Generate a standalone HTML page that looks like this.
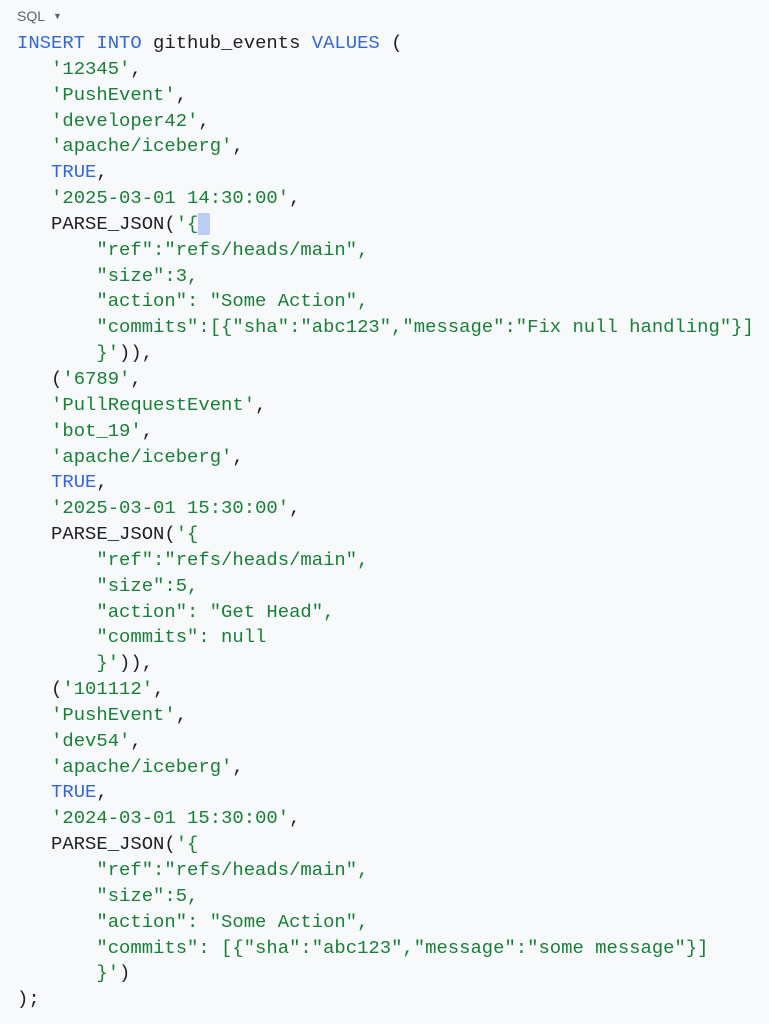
<!DOCTYPE html>
<html><head><style>
body{margin:0;width:769px;height:1024px;background:#f8f9fa;overflow:hidden}
.h{position:absolute;left:17px;top:8px;font:14px "Liberation Sans",sans-serif;color:#5f6368}
.h span{font-size:9px;margin-left:8px;vertical-align:2px}
pre{position:absolute;left:17px;top:31px;margin:0;font:18.9px/25.84px "Liberation Mono",monospace;color:#202124}
.k{color:#3367d6}.s{color:#188038}
.c{background:#b9cdf5}
</style></head><body>
<div class="h">SQL<span>▼</span></div>
<pre><span class="k">INSERT INTO</span> github_events <span class="k">VALUES</span> (
   <span class="s">'12345'</span>,
   <span class="s">'PushEvent'</span>,
   <span class="s">'developer42'</span>,
   <span class="s">'apache/iceberg'</span>,
   <span class="k">TRUE</span>,
   <span class="s">'2025-03-01 14:30:00'</span>,
   PARSE_JSON(<span class="s">'{<span class="c"> </span></span>
<span class="s">       "ref":"refs/heads/main",
       "size":3,
       "action": "Some Action",
       "commits":[{"sha":"abc123","message":"Fix null handling"}]
       }'</span>)),
   (<span class="s">'6789'</span>,
   <span class="s">'PullRequestEvent'</span>,
   <span class="s">'bot_19'</span>,
   <span class="s">'apache/iceberg'</span>,
   <span class="k">TRUE</span>,
   <span class="s">'2025-03-01 15:30:00'</span>,
   PARSE_JSON(<span class="s">'{
       "ref":"refs/heads/main",
       "size":5,
       "action": "Get Head",
       "commits": null
       }'</span>)),
   (<span class="s">'101112'</span>,
   <span class="s">'PushEvent'</span>,
   <span class="s">'dev54'</span>,
   <span class="s">'apache/iceberg'</span>,
   <span class="k">TRUE</span>,
   <span class="s">'2024-03-01 15:30:00'</span>,
   PARSE_JSON(<span class="s">'{
       "ref":"refs/heads/main",
       "size":5,
       "action": "Some Action",
       "commits": [{"sha":"abc123","message":"some message"}]
       }'</span>)
);</pre>
</body></html>
